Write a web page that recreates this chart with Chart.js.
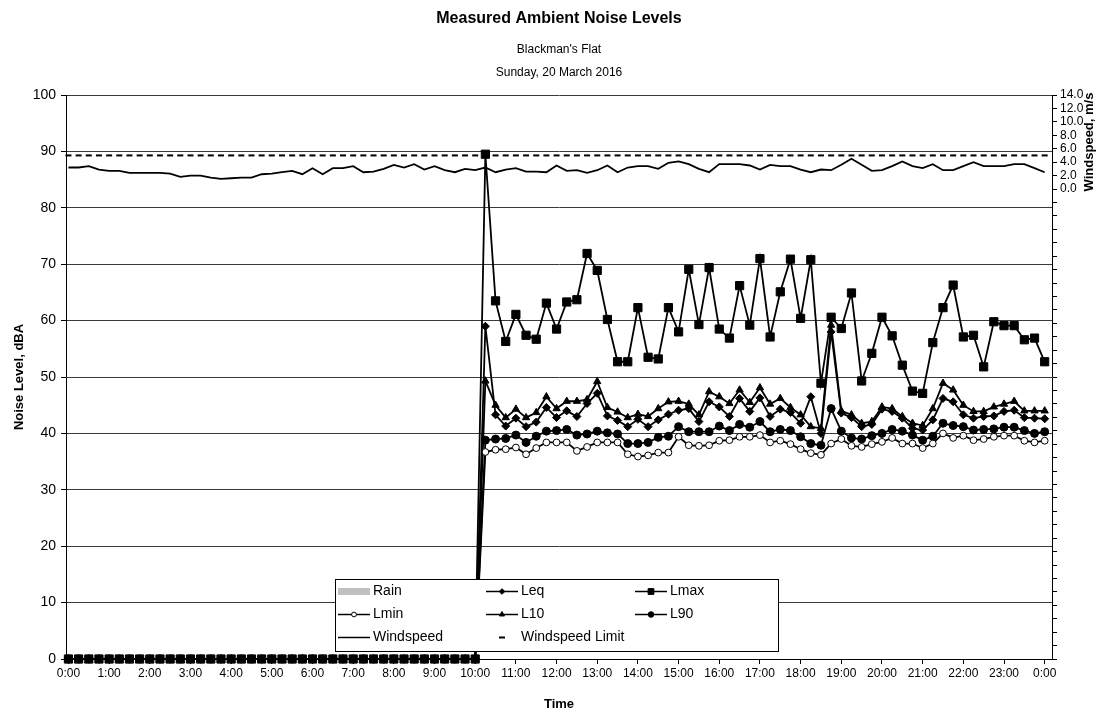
<!DOCTYPE html>
<html>
<head>
<meta charset="utf-8">
<title>Measured Ambient Noise Levels</title>
<script src="https://cdn.jsdelivr.net/npm/chart.js@4/dist/chart.umd.min.js"></script>
<style>
    html, body { margin: 0; padding: 0; background: #fff; }
    #wrap { width: 1097px; height: 713px; }
</style>
</head>
<body>
<div id="wrap"><canvas id="noise" width="1097" height="713"></canvas></div>
<script>
'use strict';

// 15 minute readings, 0:00 to 24:00
const TIMES = [
    '0:00','0:15','0:30','0:45','1:00','1:15','1:30','1:45','2:00','2:15','2:30','2:45',
    '3:00','3:15','3:30','3:45','4:00','4:15','4:30','4:45','5:00','5:15','5:30','5:45',
    '6:00','6:15','6:30','6:45','7:00','7:15','7:30','7:45','8:00','8:15','8:30','8:45',
    '9:00','9:15','9:30','9:45','10:00','10:15','10:30','10:45','11:00','11:15','11:30','11:45',
    '12:00','12:15','12:30','12:45','13:00','13:15','13:30','13:45','14:00','14:15','14:30','14:45',
    '15:00','15:15','15:30','15:45','16:00','16:15','16:30','16:45','17:00','17:15','17:30','17:45',
    '18:00','18:15','18:30','18:45','19:00','19:15','19:30','19:45','20:00','20:15','20:30','20:45',
    '21:00','21:15','21:30','21:45','22:00','22:15','22:30','22:45','23:00','23:15','23:30','23:45',
    '24:00'
];

const HOUR_TICKS  = [0,1,2,3,4,5,6,7,8,9,10,11,12,13,14,15,16,17,18,19,20,21,22,23,24];
const HOUR_LABELS = ['0:00','1:00','2:00','3:00','4:00','5:00','6:00','7:00','8:00','9:00','10:00','11:00',
                     '12:00','13:00','14:00','15:00','16:00','17:00','18:00','19:00','20:00','21:00','22:00','23:00','0:00'];

const RAIN = [
    0,0,0,0,0,0,0,0,0,0,0,0,0,0,0,0,0,0,0,0,0,0,0,0,0,0,0,0,0,0,0,0,0,0,0,0,0,0,0,0,0,
    0,0,0,0,0,0,0,0,0,0,0,0,0,0,0,0,0,0,0,0,0,0,0,0,0,0,0,0,0,0,0,0,0,0,0,0,0,0,0,0,
    0,0,0,0,0,0,0,0,0,0,0,0,0,0,0,0
];

const LEQ = [
    0,0,0,0,0,0,0,0,0,0,0,0,0,0,0,0,0,0,0,0,0,0,0,0,0,0,0,0,0,0,0,0,0,0,0,0,0,0,0,0,0,
    59.0,43.3,41.3,42.7,41.2,42.0,44.6,42.8,44.0,43.0,45.3,47.1,43.1,42.3,41.2,42.5,41.2,42.4,43.4,44.1,
    44.4,42.1,45.6,44.7,43.0,46.2,43.9,46.3,43.0,44.3,43.7,41.8,46.5,40.0,58.0,43.6,42.8,41.2,41.6,44.3,
    43.9,42.7,40.9,40.6,42.4,46.2,45.6,43.3,42.7,43.0,43.1,43.9,44.1,42.8,42.7,42.6
];

const LMAX = [
    0,0,0,0,0,0,0,0,0,0,0,0,0,0,0,0,0,0,0,0,0,0,0,0,0,0,0,0,0,0,0,0,0,0,0,0,0,0,0,0,0,
    89.5,63.5,56.3,61.1,57.4,56.7,63.1,58.5,63.3,63.7,71.9,68.9,60.2,52.7,52.7,62.3,53.5,53.2,62.3,58.0,
    69.1,59.3,69.4,58.5,56.9,66.2,59.2,71.0,57.1,65.1,70.9,60.4,70.8,48.9,60.6,58.6,64.9,49.3,54.2,60.6,
    57.3,52.1,47.5,47.1,56.1,62.3,66.3,57.1,57.4,51.8,59.8,59.1,59.1,56.6,56.9,52.7
];

const LMIN = [
    0,0,0,0,0,0,0,0,0,0,0,0,0,0,0,0,0,0,0,0,0,0,0,0,0,0,0,0,0,0,0,0,0,0,0,0,0,0,0,0,0,
    36.7,37.1,37.2,37.5,36.3,37.4,38.4,38.4,38.4,36.9,37.6,38.4,38.4,38.4,36.3,35.9,36.1,36.6,36.6,39.4,
    37.9,37.8,37.9,38.7,38.8,39.4,39.4,39.7,38.4,38.7,38.1,37.2,36.5,36.2,38.2,39.0,37.8,37.6,38.1,38.5,
    39.2,38.2,38.2,37.4,38.2,40.0,39.2,39.6,38.8,39.0,39.4,39.6,39.6,38.7,38.4,38.7
];

const L10 = [
    0,0,0,0,0,0,0,0,0,0,0,0,0,0,0,0,0,0,0,0,0,0,0,0,0,0,0,0,0,0,0,0,0,0,0,0,0,0,0,0,0,
    49.3,45.0,42.8,44.3,42.8,43.7,46.5,44.4,45.7,45.7,46.0,49.2,44.6,43.8,42.8,43.4,43.0,44.4,45.6,45.7,
    45.2,43.3,47.4,46.5,45.3,47.7,45.5,48.1,45.2,46.2,44.6,43.3,41.2,40.9,59.2,44.0,43.3,41.8,42.1,44.7,
    44.4,43.0,41.8,41.4,44.4,48.9,47.7,45.0,43.9,43.9,44.7,45.2,45.7,44.0,44.0,44.0
];

const L90 = [
    0,0,0,0,0,0,0,0,0,0,0,0,0,0,0,0,0,0,0,0,0,0,0,0,0,0,0,0,0,0,0,0,0,0,0,0,0,0,0,0,0,
    38.8,39.0,39.1,39.7,38.4,39.5,40.4,40.5,40.7,39.7,39.9,40.4,40.1,39.9,38.2,38.2,38.4,39.3,39.5,41.2,
    40.3,40.3,40.3,41.3,40.5,41.6,41.1,42.1,40.3,40.7,40.5,39.4,38.2,37.9,44.4,40.4,39.2,39.0,39.6,40.0,
    40.7,40.4,39.7,38.8,39.5,41.8,41.4,41.2,40.6,40.7,40.8,41.1,41.1,40.5,40.0,40.3
];

// m/s, right axis
const WINDSPEED = [
    3.2,3.2,3.4,2.9,2.7,2.7,2.4,2.4,2.4,2.4,2.3,1.8,2.0,2.0,1.7,1.5,1.6,1.7,1.7,2.2,
    2.3,2.5,2.7,2.2,3.1,2.2,3.1,3.1,3.4,2.5,2.6,3.0,3.6,3.2,3.7,2.9,3.4,2.8,2.5,3.0,2.8,
    3.2,2.5,2.9,3.1,2.6,2.6,2.5,3.5,2.7,2.8,2.4,2.8,3.5,2.5,3.2,3.4,3.4,3.0,3.9,4.1,
    3.7,3.0,2.5,3.7,3.7,3.7,3.5,2.9,3.6,3.4,3.4,2.9,2.5,2.9,2.8,3.6,4.5,3.6,2.7,2.8,
    3.4,4.1,3.4,3.1,3.7,2.8,2.8,3.4,4.0,3.4,3.4,3.4,3.7,3.7,3.1,2.5
];

const WIND_LIMIT = [
    5,5,5,5,5,5,5,5,5,5,5,5,5,5,5,5,5,5,5,5,5,5,5,5,5,5,5,5,5,5,5,5,5,5,5,5,5,5,5,5,5,
    5,5,5,5,5,5,5,5,5,5,5,5,5,5,5,5,5,5,5,5,5,5,5,5,5,5,5,5,5,5,5,5,5,5,5,5,5,5,5,5,
    5,5,5,5,5,5,5,5,5,5,5,5,5,5,5,5
];

const FONT  = '"Liberation Sans", Arial, Helvetica, sans-serif';
const BLACK = '#000000';
const GRID  = '#3a3a3a';

const toHours = (t) => { const p = t.split(':'); return Number(p[0]) + Number(p[1]) / 60; };

const lineSeries = (label, data, style, radius, fill, axis) => ({
    type: 'line',
    label,
    data,
    yAxisID: axis || 'y',
    borderColor: BLACK,
    borderWidth: 1.8,
    tension: 0,
    fill: false,
    clip: false,
    pointStyle: style || 'circle',
    pointRadius: radius || 0,
    pointHoverRadius: radius || 0,
    pointBackgroundColor: fill || BLACK,
    pointBorderColor: BLACK,
    pointBorderWidth: 1
});

// legend sits inside the plot, 3 columns
const legendBox = {
    id: 'legendBox',
    afterDraw(chart) {
        const ctx  = chart.ctx;
        const box  = { x: 335, y: 579, w: 443, h: 72 };
        const cols = [338, 486, 635];
        const rows = [591, 614, 637];
        const iconW = 32;

        ctx.save();
        ctx.fillStyle = '#ffffff';
        ctx.fillRect(box.x, box.y, box.w, box.h);
        ctx.strokeStyle = BLACK;
        ctx.lineWidth = 1;
        ctx.strokeRect(box.x + 0.5, box.y + 0.5, box.w, box.h);

        chart.data.datasets.forEach((ds, i) => {
            const x = cols[i % 3];
            const y = rows[Math.floor(i / 3)];
            if (ds.type === 'bar') {
                ctx.fillStyle = ds.backgroundColor;
                ctx.fillRect(x, y - 3, iconW, 7);
            } else {
                if (ds.showLine !== false) {
                    ctx.beginPath();
                    ctx.moveTo(x, y + 0.5);
                    ctx.lineTo(x + iconW, y + 0.5);
                    ctx.strokeStyle = ds.borderColor;
                    ctx.lineWidth = 1.5;
                    ctx.stroke();
                }
                if (ds.pointRadius > 0) {
                    ctx.fillStyle = ds.pointBackgroundColor;
                    ctx.strokeStyle = ds.pointBorderColor;
                    ctx.lineWidth = ds.pointBorderWidth;
                    Chart.helpers.drawPoint(ctx, {
                        pointStyle: ds.pointStyle,
                        radius: ds.pointStyle === 'line' ? ds.pointRadius : ds.pointRadius * 0.7,
                        borderWidth: ds.pointBorderWidth,
                        rotation: 0
                    }, x + iconW / 2, y + 0.5);
                }
            }
            ctx.fillStyle = BLACK;
            ctx.font = '14px ' + FONT;
            ctx.textAlign = 'left';
            ctx.textBaseline = 'middle';
            ctx.fillText(ds.label, x + iconW + 3, y);
        });
        ctx.restore();
    }
};

// Excel style secondary axis title, reads bottom to top next to the labelled part
const windAxisTitle = {
    id: 'windAxisTitle',
    afterDraw(chart) {
        const s   = chart.scales.y1;
        const ctx = chart.ctx;
        const y   = (s.getPixelForValue(0) + s.getPixelForValue(14)) / 2;
        ctx.save();
        ctx.translate(s.right - 8, y);
        ctx.rotate(-Math.PI / 2);
        ctx.font = 'bold 13px ' + FONT;
        ctx.fillStyle = BLACK;
        ctx.textAlign = 'center';
        ctx.textBaseline = 'middle';
        ctx.fillText('Windspeed, m/s', 0, 0);
        ctx.restore();
    }
};

Chart.defaults.font.family = FONT;
Chart.defaults.color = BLACK;

new Chart(document.getElementById('noise').getContext('2d'), {
    type: 'line',
    data: {
        labels: TIMES.map(toHours),
        datasets: [
            { type: 'bar', label: 'Rain', data: RAIN, yAxisID: 'y', backgroundColor: '#c0c0c0', borderWidth: 0 },
            lineSeries('Leq', LEQ, 'rectRot', 4),
            lineSeries('Lmax', LMAX, 'rect', 5.8),
            lineSeries('Lmin', LMIN, 'circle', 3.4, '#ffffff'),
            lineSeries('L10', L10, 'triangle', 4.2),
            lineSeries('L90', L90, 'circle', 4),
            lineSeries('Windspeed', WINDSPEED, 'circle', 0, BLACK, 'y1'),
            Object.assign(lineSeries('Windspeed Limit', WIND_LIMIT, 'line', 3, BLACK, 'y1'), {
                showLine: false,
                pointBorderWidth: 2
            })
        ]
    },
    plugins: [legendBox, windAxisTitle],
    options: {
        responsive: false,
        animation: false,
        devicePixelRatio: 1,
        layout: { padding: 0 },
        plugins: {
            legend: { display: false },
            tooltip: { enabled: false },
            title: {
                display: true,
                fullSize: false,
                text: 'Measured Ambient Noise Levels',
                font: { size: 16, weight: 'bold' },
                color: BLACK,
                padding: { top: 9, bottom: 0 }
            },
            subtitle: {
                display: true,
                fullSize: false,
                text: ["Blackman's Flat", 'Sunday, 20 March 2016'],
                font: { size: 12, lineHeight: 23 / 12 },
                color: BLACK,
                padding: { top: 10, bottom: 10.8 }
            }
        },
        scales: {
            x: {
                type: 'linear',
                offset: false,
                min: -0.06,
                max: 24.18,
                afterFit: (s) => { s.height = 54; },
                afterBuildTicks: (s) => { s.ticks = HOUR_TICKS.map(v => ({ value: v })); },
                border: { color: BLACK, width: 1 },
                grid: { offset: false, drawOnChartArea: false, tickLength: 5, tickColor: BLACK },
                ticks: {
                    autoSkip: false,
                    maxRotation: 0,
                    padding: 2,
                    font: { size: 12 },
                    callback: (v, i) => HOUR_LABELS[i]
                },
                title: {
                    display: true,
                    text: 'Time',
                    font: { size: 13, weight: 'bold' },
                    padding: { top: 0, bottom: 1 }
                }
            },
            y: {
                position: 'left',
                min: 0,
                max: 100,
                afterFit: (s) => { s.width = 66; },
                border: { color: BLACK, width: 1 },
                grid: { color: GRID, lineWidth: 1, tickLength: 5, tickColor: BLACK },
                ticks: { stepSize: 10, padding: 5, font: { size: 14 } },
                title: {
                    display: true,
                    text: 'Noise Level, dBA',
                    font: { size: 13, weight: 'bold' },
                    padding: { top: 12, bottom: 0 }
                }
            },
            y1: {
                position: 'right',
                min: -70,
                max: 14,
                afterFit: (s) => { s.width = 45; },
                border: { color: BLACK, width: 1 },
                grid: { drawOnChartArea: false, tickLength: 5, tickColor: BLACK },
                ticks: {
                    autoSkip: false,
                    stepSize: 2,
                    padding: 3,
                    font: { size: 12 },
                    callback: (v) => v >= 0 ? v.toFixed(1) : ''
                }
            }
        }
    }
});
</script>
</body>
</html>
